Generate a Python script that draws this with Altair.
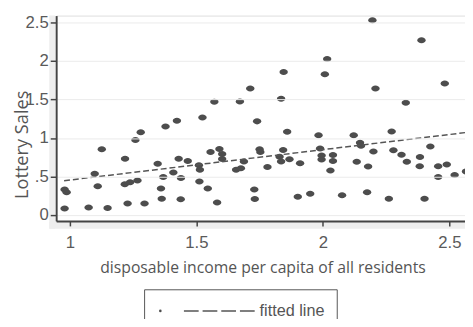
import altair as alt
import pandas as pd

# Data
income = [0.979, 0.987, 0.979, 1.074, 1.098, 1.110, 1.126, 1.149, 1.218, 1.217,
          1.238, 1.228, 1.259, 1.267, 1.280, 1.295, 1.347, 1.360, 1.369, 1.363,
          1.378, 1.409, 1.423, 1.430, 1.439, 1.438, 1.466, 1.510, 1.514, 1.512,
          1.524, 1.556, 1.545, 1.571, 1.582, 1.591, 1.602, 1.602, 1.657, 1.676,
          1.688, 1.672, 1.713, 1.740, 1.750, 1.753, 1.729, 1.731, 1.781, 1.829,
          1.835, 1.835, 1.845, 1.843, 1.859, 1.868, 1.901, 1.910, 1.950, 1.983,
          1.989, 1.995, 1.995, 2.008, 2.017, 2.030, 2.040, 2.040, 2.076, 2.122,
          2.134, 2.147, 2.151, 2.175, 2.179, 2.196, 2.200, 2.208, 2.261, 2.272,
          2.279, 2.311, 2.328, 2.332, 2.384, 2.383, 2.390, 2.402, 2.425, 2.456,
          2.456, 2.482, 2.490, 2.521, 2.566]
sales = [0.332, 0.297, 0.085, 0.098, 0.536, 0.374, 0.855, 0.093, 0.731, 0.399,
         0.425, 0.149, 0.973, 0.450, 1.075, 0.149, 0.667, 0.344, 0.494, 0.213,
         1.148, 0.552, 1.224, 0.731, 0.481, 0.204, 0.702, 0.647, 0.587, 0.437,
         1.267, 0.820, 0.344, 1.471, 0.162, 0.858, 0.791, 0.727, 0.587, 0.606,
         0.695, 1.473, 1.642, 1.216, 0.855, 0.820, 0.332, 0.210, 0.625, 0.756,
         0.695, 1.511, 1.858, 0.846, 1.080, 0.723, 0.239, 0.672, 0.277, 1.037,
         0.864, 0.774, 0.721, 1.828, 2.024, 0.578, 0.781, 0.702, 0.258, 1.037,
         0.693, 0.937, 0.899, 0.297, 0.629, 2.529, 0.825, 1.642, 0.213, 1.084,
         0.842, 0.784, 1.457, 0.691, 0.753, 0.634, 2.270, 0.213, 0.890, 0.634,
         0.495, 1.709, 0.657, 0.520, 0.565]

fit_x = [0.977, 2.562]
fit_y = [0.446, 1.070]

y_ticks = [0, 0.5, 1, 1.5, 2, 2.5]
x_ticks = [1, 1.5, 2, 2.5]
legend_labels = ["", "fitted line"]
x_title = "disposable income per capita of all residents"
y_title = "Lottery Sales"

W, H = 416, 209
INK = "#4d4d4d"

pts = pd.DataFrame({"income": income, "sales": sales})
fit = pd.DataFrame({"income": fit_x, "sales": fit_y})
one = pd.DataFrame({"k": [0]})

xs = alt.Scale(domain=[0.9456, 2.562], nice=False, zero=False)
ys = alt.Scale(domain=[-0.077, 2.589], nice=False, zero=False)

x_axis = alt.Axis(values=x_ticks, grid=False, tickSize=5, tickColor="#444",
                  domainColor="#444", domainWidth=2, tickWidth=1.5, format=".1~f",
                  labelFont="Liberation Sans", labelFontSize=17, labelColor="#5a5a5a",
                  labelPadding=9, title=x_title, titleFont="Open Sans",
                  titleFontSize=16, titleFontWeight="normal", titleColor="#555",
                  titleX=210, titleY=47, titleBaseline="middle", zindex=1)
y_axis = alt.Axis(values=y_ticks, grid=True, gridColor="#ebebeb", gridWidth=1,
                  tickSize=6, tickColor="#444", tickWidth=1.5, domainColor="#444",
                  domainWidth=2, format=".1~f", labelFont="Liberation Sans",
                  labelFontSize=17, labelColor="#5a5a5a", labelPadding=2,
                  labelExpr="datum.value == 0.5 ? '.5' : datum.label",
                  title=y_title, titleFont="Open Sans", titleFontSize=18.5,
                  titleFontWeight="normal", titleColor="#555", titleAngle=-90,
                  titleX=-35, titleY=131, titleBaseline="middle", titleAlign="center",
                  zindex=1)

ellipse = "M-1,0A1,0.72,0,1,1,1,0A1,0.72,0,1,1,-1,0Z"

strip_left = alt.Chart(one).mark_rect(color="#eeeeee").encode(
    x=alt.value(-7), x2=alt.value(-1), y=alt.value(0), y2=alt.value(217))
strip_bottom = alt.Chart(one).mark_rect(color="#eeeeee").encode(
    x=alt.value(-7), x2=alt.value(W), y=alt.value(210), y2=alt.value(217))

points = alt.Chart(pts).mark_point(shape=ellipse, filled=True, size=72,
                                   color=INK, opacity=1, clip=True).encode(
    x=alt.X("income:Q", scale=xs, axis=x_axis),
    y=alt.Y("sales:Q", scale=ys, axis=y_axis))

line = alt.Chart(fit).mark_line(color="#555", strokeWidth=1.5,
                                strokeDash=[6, 3], clip=True).encode(
    x=alt.X("income:Q", scale=xs), y=alt.Y("sales:Q", scale=ys))

leg_box = alt.Chart(one).mark_rect(fill="white", stroke="#555", strokeWidth=1).encode(
    x=alt.value(90), x2=alt.value(286), y=alt.value(279), y2=alt.value(330))
leg_dot = alt.Chart(one).mark_point(shape="circle", filled=True, size=7,
                                    color=INK, opacity=1).encode(
    x=alt.value(106), y=alt.value(300.5))
leg_dash = alt.Chart(one).mark_rule(color="#555", strokeWidth=1.5,
                                    strokeDash=[15, 4]).encode(
    x=alt.value(130), x2=alt.value(206), y=alt.value(300.5))
leg_text = alt.Chart(one).mark_text(align="left", baseline="alphabetic",
                                    font="Liberation Sans", fontSize=16.5,
                                    color="#555").encode(
    x=alt.value(207), y=alt.value(305.5), text=alt.value(legend_labels[1]))

chart = alt.layer(strip_left, strip_bottom, points, line,
                  leg_box, leg_dot, leg_dash, leg_text).properties(
    width=W, height=H,
    autosize=alt.AutoSizeParams(type="none"),
    padding={"left": 49, "top": 5, "right": 0, "bottom": 97},
).configure_view(stroke=None).configure(background="white")

chart.save("out.html", embed_options={"renderer": "svg", "actions": False})
